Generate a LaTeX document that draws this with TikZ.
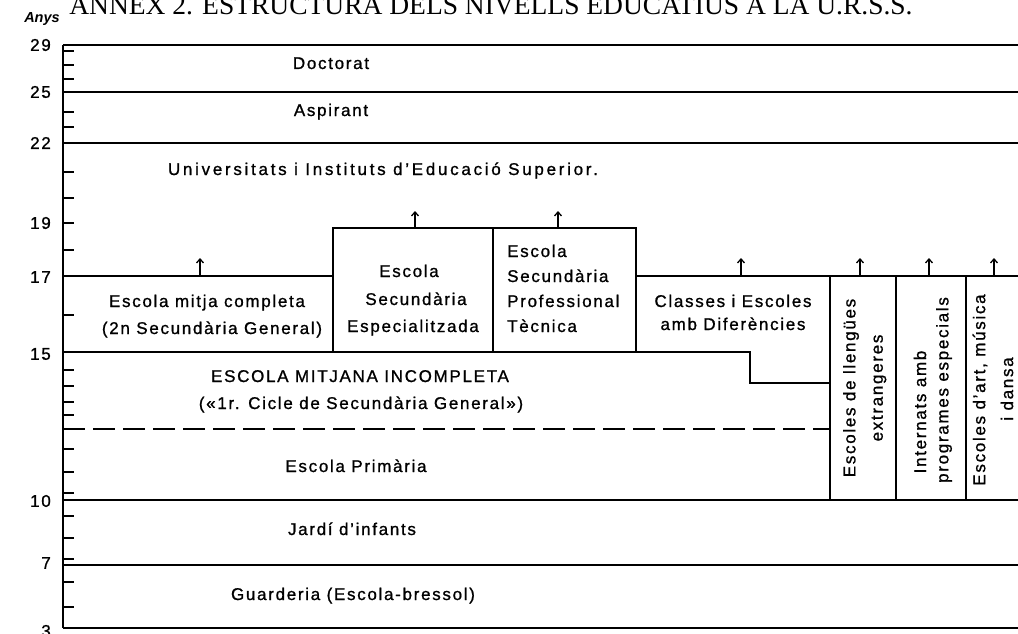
\documentclass[tikz,border=0pt]{standalone}
\usepackage{fontspec}
\setmainfont{Liberation Sans}
\newfontfamily\lab{Liberation Sans}[LetterSpace=10,FakeBold=1]
\newfontfamily\labw{Liberation Sans}[LetterSpace=16,FakeBold=1]
\newfontfamily\ttl{Liberation Serif}
\usetikzlibrary{arrows.meta}
\begin{document}
\begin{tikzpicture}[x=1pt,y=-1pt,
  ln/.style={line width=1.7pt},
  bx/.style={line width=1.5pt},
  tk/.style={line width=1.7pt},
  up/.style={line width=1.3pt,-{Straight Barb[length=4pt,width=7pt,line width=1.3pt]}},
  txt/.style={inner sep=0pt,anchor=base,font={\lab\fontsize{17}{20}\selectfont}},
  txtw/.style={txt,anchor=base west},
  vtxt/.style={inner sep=0pt,anchor=center,rotate=90,font={\lab\fontsize{17}{20}\selectfont}},
  yr/.style={inner sep=0pt,anchor=east,font={\lab\fontsize{17}{20}\selectfont}}]
\useasboundingbox (0,0) rectangle (1018,634);
\clip (0,0) rectangle (1018,634);
% title
\node[inner sep=0pt,anchor=base,font={\ttl\fontsize{27.5}{32}\selectfont}] (title) at (491,15) {ANNEX 2. ESTRUCTURA DELS NIVELLS EDUCATIUS A LA U.R.S.S.};
\node[inner sep=0pt,anchor=base,font={\bfseries\itshape\fontsize{14.5}{17}\selectfont}] (anys) at (42,23) {Anys};
% axis
\draw[ln] (63,45) -- (63,628);
\foreach \t in {51,65,79,112,127,172,198,223,250,315,370,386,402,415,449,472,493,516,538,559,582,607}
  \draw[tk] (63,\t) -- (74,\t);
% year labels
\foreach \v/\t in {29/45,25/92,22/143,19/223,17/277,15/354,10/501,7/563,3/631}
  \node[yr] (y\v) at (51,\t) {\v};
% horizontal lines and boxes
\draw[ln] (63,45) -- (1018,45);
\draw[ln] (63,92) -- (1018,92);
\draw[ln] (63,143) -- (1018,143);
\draw[ln] (63,276) -- (333,276);
\draw[ln] (636,276) -- (1018,276);
\draw[bx] (333,228) rectangle (493,352);
\draw[bx] (493,228) rectangle (636,352);
\draw[ln] (63,352) -- (750,352) -- (750,383) -- (830,383);
\foreach \c in {830,896,966}
  \draw[bx] (\c,276) -- (\c,500);
\draw[ln,dash pattern=on 22pt off 8pt] (63,429) -- (830,429);
\draw[ln] (63,500) -- (1018,500);
\draw[ln] (63,565) -- (1018,565);
\draw[ln] (63,628) -- (1018,628);
% arrows
\foreach \a in {200,741,860,929,994}
  \draw[up] (\a,276) -- (\a,258);
\foreach \a in {415,558}
  \draw[up] (\a,228) -- (\a,211);
% texts
\node[txt] (doc) at (331,69) {Doctorat};
\node[txt] (asp) at (331,116) {Aspirant};
\node[txt,font={\labw\fontsize{17}{20}\selectfont}] (univ) at (383,175) {Universitats i Instituts d’Educació Superior.};
\node[txt] (emc1) at (207,307) {Escola mitja completa};
\node[txt] (emc2) at (212,334) {(2n Secundària General)};
\node[txt] (ese1) at (409,277) {Escola};
\node[txt] (ese2) at (416,305) {Secundària};
\node[txt] (ese3) at (413,332) {Especialitzada};
\node[txtw] (ept1) at (507,257) {Escola};
\node[txtw] (ept2) at (507,282) {Secundària};
\node[txtw] (ept3) at (507,307) {Professional};
\node[txtw] (ept4) at (507,332) {Tècnica};
\node[txt] (cls1) at (733,307) {Classes i Escoles};
\node[txt] (cls2) at (733,330) {amb Diferències};
\node[txt] (emi1) at (360,382) {ESCOLA MITJANA INCOMPLETA};
\node[txt] (emi2) at (361,409) {(«1r. Cicle de Secundària General»)};
\node[txt] (prim) at (356,472) {Escola Primària};
\node[txt] (jard) at (352,535) {Jardí d’infants};
\node[txt] (guar) at (353,600) {Guarderia (Escola-bressol)};
\node[vtxt] (ll1) at (851,388) {Escoles de llengües};
\node[vtxt] (ll2) at (879,388) {extrangeres};
\node[vtxt] (int1) at (920,412) {Internats amb};
\node[vtxt] (int2) at (944,390) {programes especials};
\node[vtxt] (art1) at (980,390) {Escoles d’art, música};
\node[vtxt] (art2) at (1007,389) {i dansa};
\end{tikzpicture}
\end{document}
